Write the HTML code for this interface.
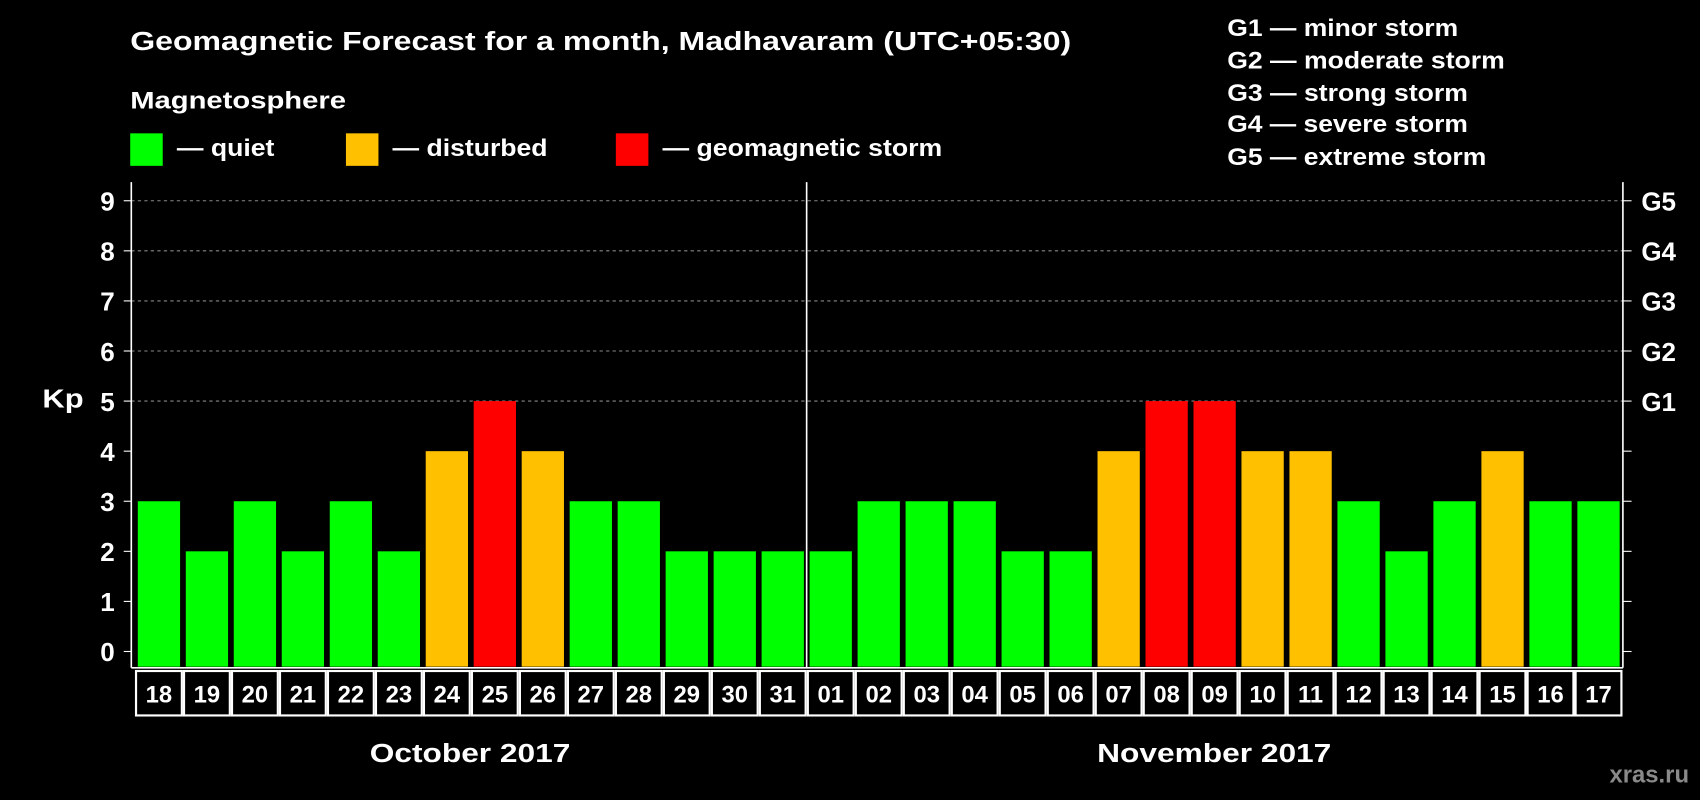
<!DOCTYPE html>
<html><head><meta charset="utf-8"><style>
html,body{margin:0;padding:0;background:#000;width:1700px;height:800px;overflow:hidden}
svg{display:block}
text{font-family:"Liberation Sans",Arial,sans-serif;font-weight:bold;fill:#fff}
</style></head><body>
<svg id="chart" width="1700" height="800" viewBox="0 0 1568 738" xmlns="http://www.w3.org/2000/svg">
<rect width="1568" height="738" fill="#000"/>
<text x="120" y="46" font-size="24" textLength="868" lengthAdjust="spacingAndGlyphs">Geomagnetic Forecast for a month, Madhavaram (UTC+05:30)</text>
<text x="120" y="100" font-size="22" textLength="199" lengthAdjust="spacingAndGlyphs">Magnetosphere</text>
<g>
<rect x="120" y="123" width="30" height="30" fill="#00ff00"/>
<text x="163" y="144" font-size="22" textLength="90" lengthAdjust="spacingAndGlyphs">— quiet</text>
<rect x="319" y="123" width="30" height="30" fill="#ffc000"/>
<text x="362" y="144" font-size="22" textLength="143" lengthAdjust="spacingAndGlyphs">— disturbed</text>
<rect x="568" y="123" width="30" height="30" fill="#ff0000"/>
<text x="611" y="144" font-size="22" textLength="258" lengthAdjust="spacingAndGlyphs">— geomagnetic storm</text>
</g>
<g font-size="22">
<text x="1132" y="33" textLength="213" lengthAdjust="spacingAndGlyphs">G1 — minor storm</text>
<text x="1132" y="63" textLength="256" lengthAdjust="spacingAndGlyphs">G2 — moderate storm</text>
<text x="1132" y="93" textLength="222" lengthAdjust="spacingAndGlyphs">G3 — strong storm</text>
<text x="1132" y="122" textLength="222" lengthAdjust="spacingAndGlyphs">G4 — severe storm</text>
<text x="1132" y="152" textLength="239" lengthAdjust="spacingAndGlyphs">G5 — extreme storm</text>
</g>
<text x="39" y="376" font-size="24" textLength="38" lengthAdjust="spacingAndGlyphs">Kp</text>
<g id="plot"></g>
<text x="341" y="703" font-size="24" textLength="185" lengthAdjust="spacingAndGlyphs">October 2017</text>
<text x="1012" y="703" font-size="24" textLength="216" lengthAdjust="spacingAndGlyphs">November 2017</text>
<text x="1558" y="722" font-size="22" text-anchor="end" style="fill:#8a8a8a">xras.ru</text>
</svg>
<script>
const days=["18","19","20","21","22","23","24","25","26","27","28","29","30","31","01","02","03","04","05","06","07","08","09","10","11","12","13","14","15","16","17"];
const kp=[3,2,3,2,3,2,4,5,4,3,3,2,2,2,2,3,3,3,2,2,4,5,5,4,4,3,2,3,4,3,3];
const yTicks=[0,1,2,3,4,5,6,7,8,9];
const gLabels=["G1","G2","G3","G4","G5"];
const gLevels=[5,6,7,8,9];
(function(){
const NS="http://www.w3.org/2000/svg";
const g=document.getElementById('plot');
const pLeft=121,pRight=1497,plotTop=168,plotBottom=616;
const y=v=>601-v*46.2;
const x0=146.5,step=(1474.5-146.5)/(days.length-1);
const xc=i=>x0+i*step;
function mk(t,a){const e=document.createElementNS(NS,t);for(const k in a)e.setAttribute(k,a[k]);g.appendChild(e);return e;}
function col(v){return v>=5?"#ff0000":v>=4?"#ffc000":"#00ff00";}
gLevels.forEach(v=>{const l=mk('line',{x1:pLeft,x2:pRight,y1:y(v),y2:y(v),stroke:'#888','stroke-dasharray':'3,3','stroke-width':1});

});
yTicks.forEach(v=>{
const t=mk('text',{x:99,y:y(v)+9,'font-size':24,'text-anchor':'middle'});t.textContent=v;


const tk=mk('line',{x1:114,x2:pLeft,y1:y(v),y2:y(v),stroke:'#fff'});


const tr=mk('line',{x1:pRight,x2:pRight+8,y1:y(v),y2:y(v),stroke:'#fff'});


});
gLabels.forEach((s,i)=>{const t=mk('text',{x:1514,y:y(gLevels[i])+9,'font-size':24});t.textContent=s;

});
kp.forEach((v,i)=>{
const r=mk('rect',{x:xc(i)-19.5,y:y(v),width:39,height:y(0)-y(v)+14,fill:col(v)});


});
[[pLeft,plotTop,pLeft,plotBottom],[pRight,plotTop,pRight,plotBottom],[pLeft,plotBottom,pRight,plotBottom],[744,plotTop,744,plotBottom]].forEach(c=>{
const l=mk('line',{x1:c[0],y1:c[1],x2:c[2],y2:c[3],stroke:'#fff','stroke-width':1.5});

});
days.forEach((d,i)=>{
const r=mk('rect',{x:xc(i)-step/2+1,y:619,width:step-2,height:41,fill:'none',stroke:'#fff','stroke-width':2});


const t=mk('text',{x:xc(i),y:648,'font-size':22,'text-anchor':'middle'});t.textContent=d;


});
})();
</script>
</body></html>
